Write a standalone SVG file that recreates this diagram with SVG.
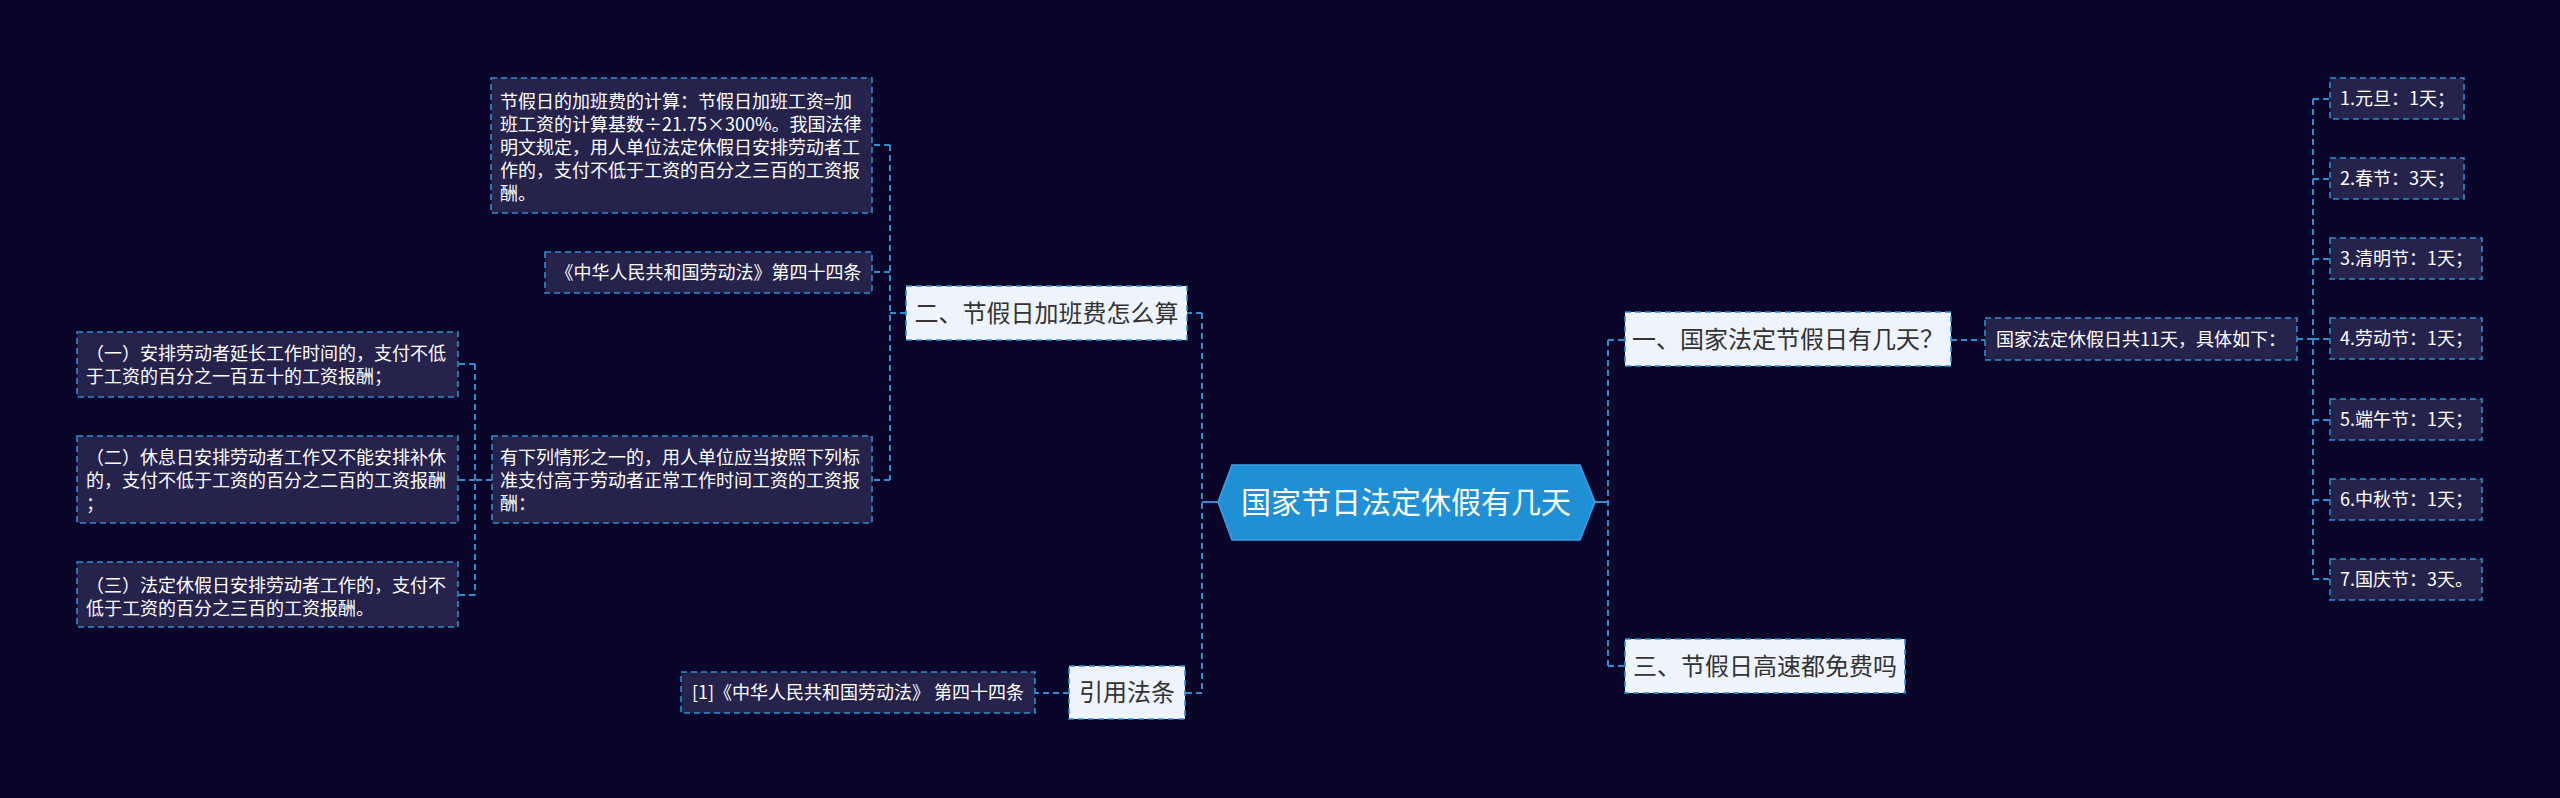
<svg xmlns="http://www.w3.org/2000/svg" width="2560" height="798" viewBox="0 0 2560 798">
<style>
text{font-family:"Noto Sans CJK SC","Noto Sans",sans-serif;}
.bg{fill:#0a0629;}
.conn{stroke:#2d8fd2;stroke-width:2;fill:none;stroke-dasharray:6 4;}
.solid{stroke:#2d8fd2;stroke-width:2;fill:none;}
.dark{fill:#25224b;stroke:#2d8fd2;stroke-width:1.6;stroke-dasharray:6 4;}
.light{fill:#eef4fd;stroke:#2d8fd2;stroke-width:1.6;stroke-dasharray:6 4;}
.dt{fill:#ffffff;font-size:18px;}
.lt{fill:#333333;font-size:24px;text-anchor:middle;}
.ct{fill:#ffffff;font-size:30px;text-anchor:middle;}
.mid{text-anchor:middle;}
</style>
<rect class="bg" x="0" y="0" width="2560" height="798"/>
<g id="connectors">
<path class="solid" d="M1218 502H1202"/>
<path class="conn" d="M1202 313V693M1202 313H1187M1202 693H1185"/>
<path class="conn" d="M890 145V480M906 313H890M890 145H872M890 272H872M890 480H872"/>
<path class="conn" d="M475 364V595M492 480H475M475 364H458M475 480H458M475 595H458"/>
<path class="conn" d="M1069 693H1035"/>
<path class="solid" d="M1595 502H1608"/>
<path class="conn" d="M1608 340V666M1608 340H1625M1608 666H1625"/>
<path class="conn" d="M1951 340H1985"/>
<path class="conn" d="M2297 339H2313M2313 99V579M2313 99H2330M2313 179H2330M2313 259H2330M2313 339H2330M2313 420H2330M2313 500H2330M2313 579H2330"/>
</g>
<g id="root">
<polygon points="1218,502 1232,465 1580,465 1595,502 1580,540 1232,540" fill="#1f8fd6" stroke="#3aa2e6" stroke-width="1.5"/>
<text class="ct" x="1406" y="513">国家节日法定休假有几天</text>
</g>
<g id="n-er">
<rect class="light" x="906" y="286" width="281" height="54"/>
<text class="lt" x="1046.5" y="322">二、节假日加班费怎么算</text>
</g>
<g id="n-calc">
<rect class="dark" x="491" y="78" width="381" height="135"/>
<text class="dt" x="500" y="108">节假日的加班费的计算：节假日加班工资=加</text>
<text class="dt" x="500" y="131">班工资的计算基数÷21.75×300%。我国法律</text>
<text class="dt" x="500" y="154">明文规定，用人单位法定休假日安排劳动者工</text>
<text class="dt" x="500" y="177">作的，支付不低于工资的百分之三百的工资报</text>
<text class="dt" x="500" y="200">酬。</text>
</g>
<g id="n-law44">
<rect class="dark" x="545" y="252" width="327" height="41"/>
<text class="dt mid" x="708.5" y="279">《中华人民共和国劳动法》第四十四条</text>
</g>
<g id="n-cases">
<rect class="dark" x="492" y="436" width="380" height="87"/>
<text class="dt" x="500" y="464">有下列情形之一的，用人单位应当按照下列标</text>
<text class="dt" x="500" y="487">准支付高于劳动者正常工作时间工资的工资报</text>
<text class="dt" x="500" y="510">酬：</text>
</g>
<g id="n-case1">
<rect class="dark" x="77" y="332" width="381" height="65"/>
<text class="dt" x="86" y="360">（一）安排劳动者延长工作时间的，支付不低</text>
<text class="dt" x="86" y="383">于工资的百分之一百五十的工资报酬；</text>
</g>
<g id="n-case2">
<rect class="dark" x="77" y="436" width="381" height="87"/>
<text class="dt" x="86" y="464">（二）休息日安排劳动者工作又不能安排补休</text>
<text class="dt" x="86" y="487">的，支付不低于工资的百分之二百的工资报酬</text>
<text class="dt" x="86" y="510">；</text>
</g>
<g id="n-case3">
<rect class="dark" x="77" y="562" width="381" height="65"/>
<text class="dt" x="86" y="592">（三）法定休假日安排劳动者工作的，支付不</text>
<text class="dt" x="86" y="615">低于工资的百分之三百的工资报酬。</text>
</g>
<g id="n-cite">
<rect class="light" x="1069" y="666" width="116" height="53"/>
<text class="lt" x="1127" y="701">引用法条</text>
</g>
<g id="n-cite1">
<rect class="dark" x="681" y="672" width="354" height="41"/>
<text class="dt mid" x="858" y="699">[1]《中华人民共和国劳动法》 第四十四条</text>
</g>
<g id="n-yi">
<rect class="light" x="1625" y="312" width="326" height="54"/>
<text class="lt" x="1788" y="348">一、国家法定节假日有几天？</text>
</g>
<g id="n-11">
<rect class="dark" x="1985" y="318" width="312" height="42"/>
<text class="dt mid" x="2141" y="346">国家法定休假日共11天，具体如下：</text>
</g>
<g id="n-h1">
<rect class="dark" x="2330" y="78" width="134" height="41"/>
<text class="dt" x="2340" y="105">1.元旦：1天；</text>
</g>
<g id="n-h2">
<rect class="dark" x="2330" y="158" width="134" height="41"/>
<text class="dt" x="2340" y="185">2.春节：3天；</text>
</g>
<g id="n-h3">
<rect class="dark" x="2330" y="238" width="152" height="41"/>
<text class="dt" x="2340" y="265">3.清明节：1天；</text>
</g>
<g id="n-h4">
<rect class="dark" x="2330" y="318" width="152" height="41"/>
<text class="dt" x="2340" y="345">4.劳动节：1天；</text>
</g>
<g id="n-h5">
<rect class="dark" x="2330" y="399" width="152" height="41"/>
<text class="dt" x="2340" y="426">5.端午节：1天；</text>
</g>
<g id="n-h6">
<rect class="dark" x="2330" y="479" width="152" height="41"/>
<text class="dt" x="2340" y="506">6.中秋节：1天；</text>
</g>
<g id="n-h7">
<rect class="dark" x="2330" y="559" width="152" height="41"/>
<text class="dt" x="2340" y="586">7.国庆节：3天。</text>
</g>
<g id="n-san">
<rect class="light" x="1625" y="639" width="280" height="54"/>
<text class="lt" x="1765" y="675">三、节假日高速都免费吗</text>
</g>
</svg>
